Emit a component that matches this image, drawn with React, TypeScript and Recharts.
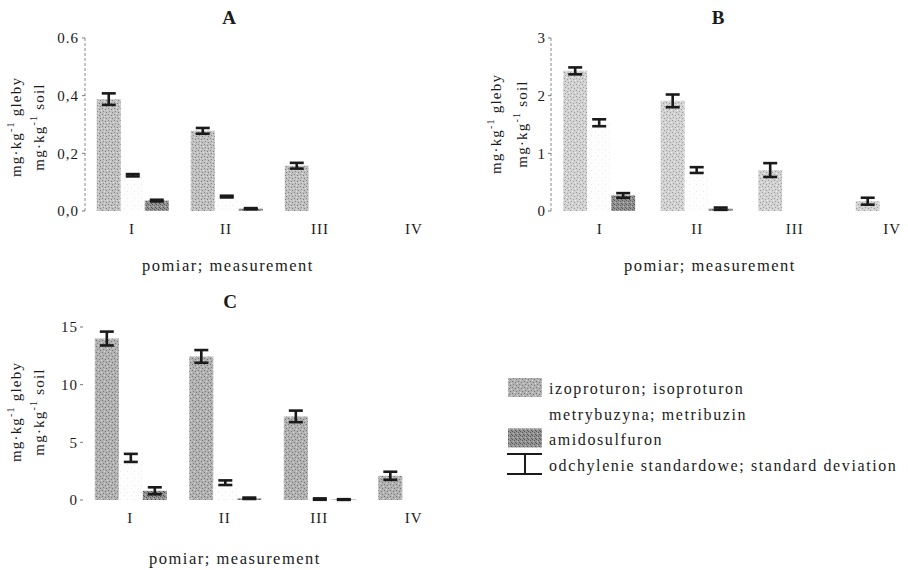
import React from 'react';
import { BarChart, Bar, XAxis, YAxis, ErrorBar, Legend } from 'recharts';

// ---------- data ----------
const measurements = ['I', 'II', 'III', 'IV'];
const seriesNames = ['izoproturon; isoproturon', 'metrybuzyna; metribuzin', 'amidosulfuron'];
const sdLabel = 'odchylenie standardowe; standard deviation';
const xTitle = 'pomiar; measurement';

// Panel A
const isoA = [0.388, 0.278, 0.157, 0];
const isoErrA = [0.02, 0.01, 0.01, 0];
const metA = [0.124, 0.05, 0, 0];
const metErrA = [0.004, 0.003, 0, 0];
const amiA = [0.036, 0.008, 0, 0];
const amiErrA = [0.003, 0.002, 0, 0];
const ticksA = [0, 0.2, 0.4, 0.6];
const tickLabelsA = ['0,0', '0,2', '0,4', '0.6'];

// Panel B
const isoB = [2.43, 1.91, 0.71, 0.17];
const isoErrB = [0.06, 0.11, 0.12, 0.06];
const metB = [1.53, 0.71, 0, 0];
const metErrB = [0.06, 0.05, 0, 0];
const amiB = [0.27, 0.04, 0, 0];
const amiErrB = [0.04, 0.02, 0, 0];
const ticksB = [0, 1, 2, 3];
const tickLabelsB = ['0', '1', '2', '3'];

// Panel C
const isoC = [14.0, 12.45, 7.25, 2.1];
const isoErrC = [0.6, 0.55, 0.5, 0.35];
const metC = [3.65, 1.5, 0.08, 0];
const metErrC = [0.35, 0.2, 0.06, 0];
const amiC = [0.8, 0.15, 0.04, 0];
const amiErrC = [0.3, 0.06, 0.03, 0];
const ticksC = [0, 5, 10, 15];
const tickLabelsC = ['0', '5', '10', '15'];

function rows(iso: number[], isoErr: number[], met: number[], metErr: number[], ami: number[], amiErr: number[]) {
  return measurements.map((m, i) => ({
    m,
    iso: iso[i],
    isoErr: isoErr[i],
    met: met[i],
    metErr: metErr[i],
    ami: ami[i],
    amiErr: amiErr[i],
  }));
}

const dataA = rows(isoA, isoErrA, metA, metErrA, amiA, amiErrA);
const dataB = rows(isoB, isoErrB, metB, metErrB, amiB, amiErrB);
const dataC = rows(isoC, isoErrC, metC, metErrC, amiC, amiErrC);

// ---------- styles ----------
const FONT = 'Liberation Serif, Times New Roman, Times, serif';
const INK = '#1a1a1a';

const Patterns = () => (
  <svg width={0} height={0} style={{ position: 'absolute', left: 0, top: 0 }}>
    <defs>
      <pattern id="isoPatA" patternUnits="userSpaceOnUse" width={6} height={6}>
        <rect width={6} height={6} fill="#c0c0c0" />
        <rect x={0} y={0} width={1} height={1} fill="#868686" />
        <rect x={3} y={1} width={1} height={1} fill="#7a7a7a" />
        <rect x={1} y={3} width={1} height={1} fill="#8c8c8c" />
        <rect x={4} y={4} width={1} height={1} fill="#808080" />
        <rect x={2} y={5} width={1} height={1} fill="#e2e2e2" />
        <rect x={5} y={2} width={1} height={1} fill="#e6e6e6" />
        <rect x={2} y={2} width={1} height={1} fill="#dadada" />
      </pattern>
      <pattern id="isoPatB" patternUnits="userSpaceOnUse" width={6} height={6}>
        <rect width={6} height={6} fill="#d2d2d2" />
        <rect x={0} y={0} width={1} height={1} fill="#989898" />
        <rect x={3} y={1} width={1} height={1} fill="#9e9e9e" />
        <rect x={1} y={3} width={1} height={1} fill="#a2a2a2" />
        <rect x={4} y={4} width={1} height={1} fill="#9a9a9a" />
        <rect x={2} y={5} width={1} height={1} fill="#eeeeee" />
        <rect x={5} y={2} width={1} height={1} fill="#f0f0f0" />
      </pattern>
      <pattern id="isoPatC" patternUnits="userSpaceOnUse" width={6} height={6}>
        <rect width={6} height={6} fill="#b2b2b2" />
        <rect x={0} y={0} width={1} height={1} fill="#727272" />
        <rect x={3} y={1} width={1} height={1} fill="#787878" />
        <rect x={1} y={3} width={1} height={1} fill="#7d7d7d" />
        <rect x={4} y={4} width={1} height={1} fill="#747474" />
        <rect x={2} y={5} width={1} height={1} fill="#dadada" />
        <rect x={5} y={2} width={1} height={1} fill="#d8d8d8" />
      </pattern>
      <pattern id="metPat" patternUnits="userSpaceOnUse" width={7} height={7}>
        <rect width={7} height={7} fill="#fdfdfd" />
        <rect x={1} y={2} width={1} height={1} fill="#e8e8e8" />
        <rect x={5} y={5} width={1} height={1} fill="#ececec" />
      </pattern>
      <pattern id="amiPat" patternUnits="userSpaceOnUse" width={4} height={4}>
        <rect width={4} height={4} fill="#939393" />
        <rect x={0} y={0} width={1} height={1} fill="#525252" />
        <rect x={2} y={1} width={1} height={1} fill="#5a5a5a" />
        <rect x={1} y={2} width={1} height={1} fill="#bbbbbb" />
        <rect x={3} y={3} width={1} height={1} fill="#565656" />
      </pattern>
    </defs>
  </svg>
);

const tickStyle = { fill: INK, fontSize: 15, fontFamily: FONT, letterSpacing: 1 };

function bars(isoFill: string) {
  return [
    <Bar key="iso" dataKey="iso" name={seriesNames[0]} fill={isoFill} isAnimationActive={false}>
      <ErrorBar dataKey="isoErr" width={7} strokeWidth={2.6} stroke={INK} />
    </Bar>,
    <Bar key="met" dataKey="met" name={seriesNames[1]} fill="url(#metPat)" isAnimationActive={false}>
      <ErrorBar dataKey="metErr" width={7} strokeWidth={2.6} stroke={INK} />
    </Bar>,
    <Bar key="ami" dataKey="ami" name={seriesNames[2]} fill="url(#amiPat)" isAnimationActive={false}>
      <ErrorBar dataKey="amiErr" width={7} strokeWidth={2.6} stroke={INK} />
    </Bar>,
  ];
}

const renderLegend = (props: any) => {
  const payload = ((props && props.payload) || []).slice();
  payload.sort((a: any, b: any) => seriesNames.indexOf(a.value) - seriesNames.indexOf(b.value));
  return (
    <svg width={400} height={110} style={{ display: 'block', overflow: 'visible' }}>
      {payload.map((e: any, i: number) => (
        <g key={e.value}>
          {i !== 1 && <rect x={8} y={3 + 25.2 * i} width={34} height={19} fill={e.color} />}
          <text
            x={49}
            y={19 + 25.5 * i}
            fill={INK}
            fontSize={16}
            fontFamily={FONT}
            letterSpacing={1.6}
          >
            {e.value}
          </text>
        </g>
      ))}
      <g stroke={INK} strokeWidth={2}>
        <line x1={7} y1={79} x2={42} y2={79} />
        <line x1={25} y1={79} x2={25} y2={99} />
        <line x1={7} y1={99} x2={42} y2={99} />
      </g>
      <text x={49} y={95.5} fill={INK} fontSize={16} fontFamily={FONT} letterSpacing={1.6}>
        {sdLabel}
      </text>
    </svg>
  );
};

const YTitle = ({ x1, x2, y }: { x1: number; x2: number; y: number }) => (
  <g fill={INK} fontFamily={FONT} fontSize={15} letterSpacing={1.2}>
    <text x={x1} y={y} transform={`rotate(-90 ${x1} ${y})`} textAnchor="middle" dominantBaseline="central">
      mg·kg
      <tspan fontSize={10} dy={-6}>-1</tspan>
      <tspan dy={6}> gleby</tspan>
    </text>
    <text x={x2} y={y} transform={`rotate(-90 ${x2} ${y})`} textAnchor="middle" dominantBaseline="central">
      mg·kg
      <tspan fontSize={10} dy={-6}>-1</tspan>
      <tspan dy={6}> soil</tspan>
    </text>
  </g>
);

export default function App() {
  return (
    <div
      style={{
        position: 'fixed',
        left: 0,
        top: 0,
        width: 908,
        height: 570,
        overflow: 'hidden',
        background: '#ffffff',
        fontFamily: FONT,
      }}
    >
      <Patterns />

      {/* Panel A */}
      <div style={{ position: 'absolute', left: 0, top: 0 }}>
        <BarChart
          width={470}
          height={280}
          data={dataA}
          margin={{ top: 38, right: 9, bottom: 39, left: 0 }}
          barCategoryGap="12.5%"
          barGap={0}
        >
          <XAxis dataKey="m" axisLine={false} tickLine={false} tick={tickStyle} height={30} tickMargin={6} />
          <YAxis
            width={85}
            domain={[0, 0.6]}
            ticks={ticksA}
            tickFormatter={(v: number, i: number) => tickLabelsA[i]}
            tick={tickStyle}
            axisLine={{ stroke: '#8a8a8a', strokeDasharray: '3 2' }}
            tickLine={{ stroke: '#777' }}
            tickSize={3}
            tickMargin={3}
          />
          {bars('url(#isoPatA)')}
        </BarChart>
      </div>

      {/* Panel B */}
      <div style={{ position: 'absolute', left: 450, top: 0 }}>
        <BarChart
          width={500}
          height={280}
          data={dataB}
          margin={{ top: 38, right: 9, bottom: 39, left: 0 }}
          barCategoryGap="12.5%"
          barGap={0}
        >
          <XAxis dataKey="m" axisLine={false} tickLine={false} tick={tickStyle} height={30} tickMargin={6} />
          <YAxis
            width={101}
            domain={[0, 3]}
            ticks={ticksB}
            tickFormatter={(v: number, i: number) => tickLabelsB[i]}
            tick={tickStyle}
            axisLine={{ stroke: '#8a8a8a', strokeDasharray: '3 2' }}
            tickLine={{ stroke: '#777' }}
            tickSize={3}
            tickMargin={2}
          />
          {bars('url(#isoPatB)')}
        </BarChart>
      </div>

      {/* Panel C */}
      <div style={{ position: 'absolute', left: 0, top: 280 }}>
        <BarChart
          width={908}
          height={290}
          data={dataC}
          margin={{ top: 47, right: 447, bottom: 40, left: 0 }}
          barCategoryGap="12.5%"
          barGap={0}
        >
          <XAxis dataKey="m" axisLine={false} tickLine={false} tick={tickStyle} height={30} tickMargin={6} />
          <YAxis
            width={83}
            domain={[0, 15]}
            ticks={ticksC}
            tickFormatter={(v: number, i: number) => tickLabelsC[i]}
            tick={tickStyle}
            axisLine={false}
            tickLine={{ stroke: '#777' }}
            tickSize={3}
            tickMargin={2}
          />
          {bars('url(#isoPatC)')}
          <Legend
            layout="vertical"
            align="center"
            verticalAlign="middle"
            content={renderLegend}
            wrapperStyle={{ left: 500, top: 95, width: 400, height: 110 }}
          />
        </BarChart>
      </div>

      {/* Titles and axis titles */}
      <svg
        width={908}
        height={570}
        style={{ position: 'absolute', left: 0, top: 0, pointerEvents: 'none' }}
      >
        <g fill={INK} fontFamily={FONT} fontWeight="bold" fontSize={19} textAnchor="middle" dominantBaseline="central">
          <text x={229} y={17}>A</text>
          <text x={718} y={17}>B</text>
          <text x={230} y={301}>C</text>
        </g>
        <YTitle x1={16} x2={39} y={127} />
        <YTitle x1={496} x2={522} y={124} />
        <YTitle x1={16} x2={39} y={412} />
        <g fill={INK} fontFamily={FONT} fontSize={16.5} letterSpacing={1.5} textAnchor="middle" dominantBaseline="central">
          <text x={228} y={265}>{xTitle}</text>
          <text x={710} y={265}>{xTitle}</text>
          <text x={235} y={558}>{xTitle}</text>
        </g>
      </svg>
    </div>
  );
}
